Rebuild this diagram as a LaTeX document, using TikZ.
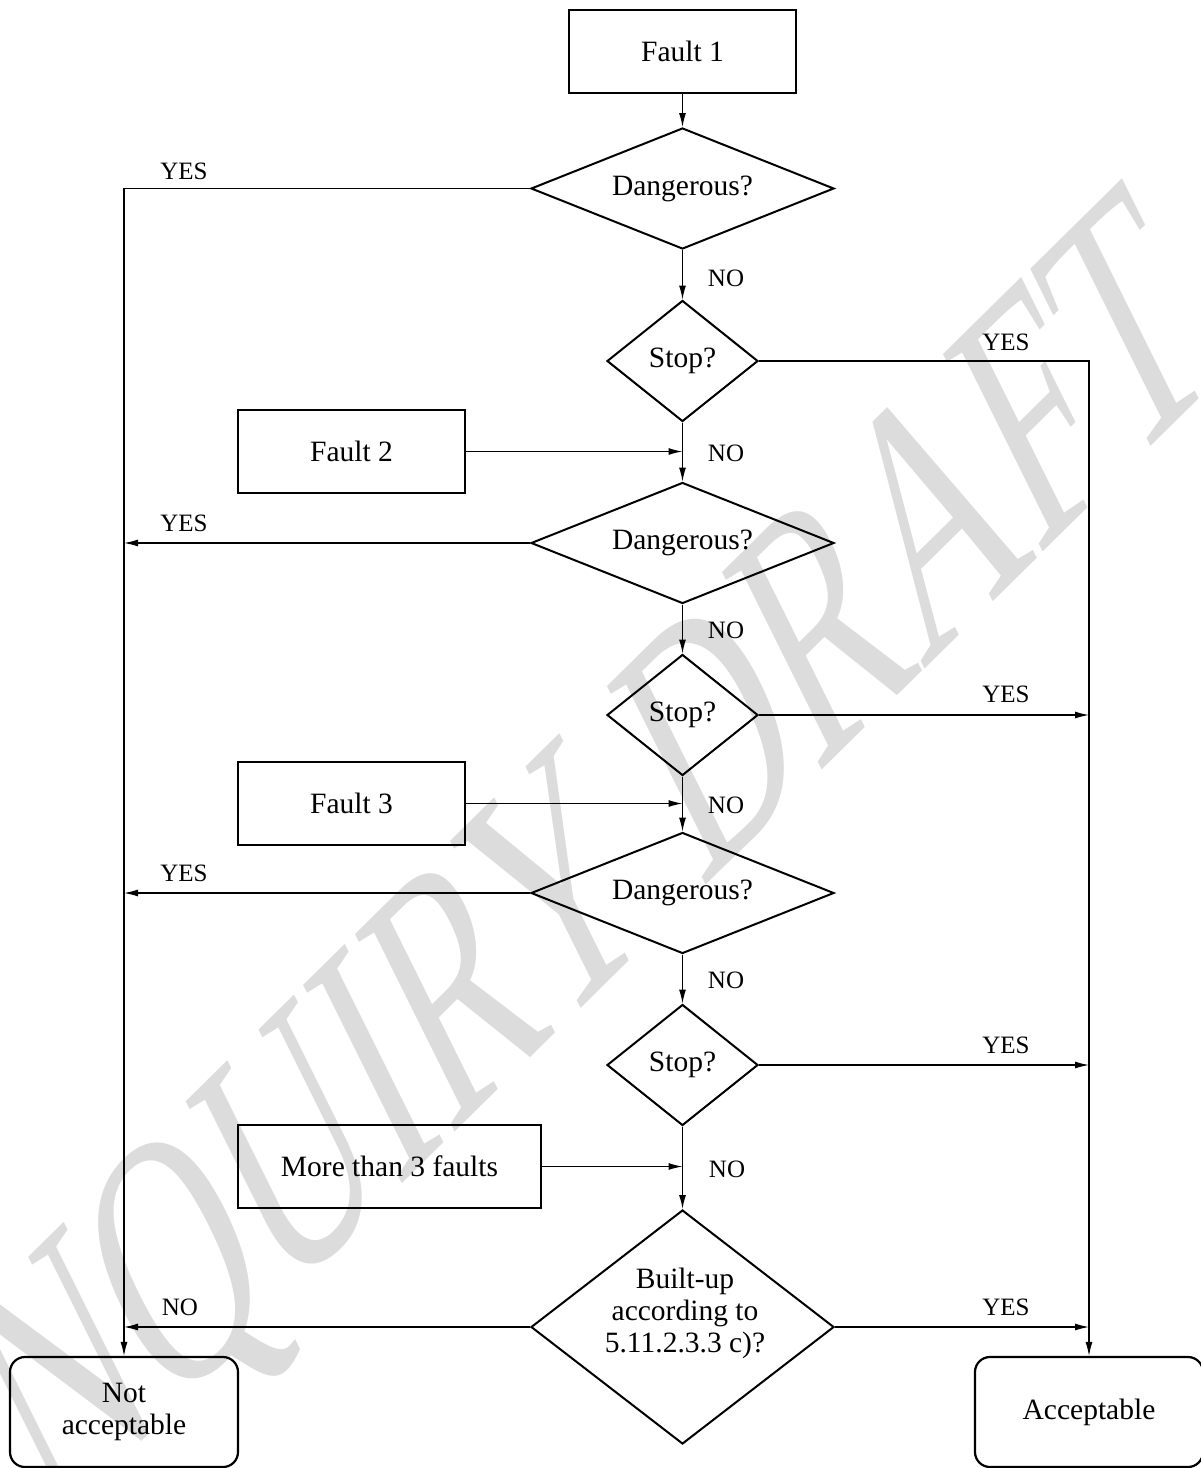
\documentclass[tikz,border=0pt]{standalone}
\usepackage{fontspec}
\setmainfont{Liberation Serif}
\usetikzlibrary{shapes.geometric,arrows.meta}
\definecolor{wmgray}{HTML}{DCDCDC}
\begin{document}
\begin{tikzpicture}[x=1pt,y=-1pt,
  txt/.style={font=\fontsize{29.5}{32}\selectfont},
  lbl/.style={font=\fontsize{25}{30}\selectfont,inner sep=0pt},
  box/.style={txt,draw,line width=2.4pt,rectangle,inner sep=0pt,minimum height=83pt},
  endbox/.style={txt,draw,line width=2.2pt,rectangle,rounded corners=15pt,inner sep=0pt,minimum width=228pt,minimum height=110pt,align=center},
  dia/.style={txt,draw,line width=2pt,diamond,inner sep=0pt},
  bigdia/.style={dia,shape aspect=2.5,minimum width=303pt,minimum height=121pt},
  smalldia/.style={dia,shape aspect=1.25,minimum width=151pt,minimum height=121pt},
  conn/.style={line width=1.2pt,-{Latex[length=14pt,width=7pt]}},
  wm/.style={text=wmgray,inner sep=0pt,font=\fontsize{370}{370}\selectfont}
]
\useasboundingbox (0,0) rectangle (1201,1468);
\begin{scope}
\clip (0,0) rectangle (1201,1468);
\fill[white] (0,0) rectangle (1201,1468);
\begin{scope}[xscale=0.71,transform shape]
\node[wm,rotate=35,anchor=base] (wmark) at (830,1000) {\scalebox{0.74}[1]{ENQUIRY DRAFT}};
\end{scope}

% nodes
\node[box,minimum width=227pt] (f1) at (682.5,51.5) {Fault 1};
\node[bigdia] (d1) at (682.5,188.5) {Dangerous?};
\node[smalldia] (s1) at (682.5,361) {Stop?};
\node[box,minimum width=227pt] (f2) at (351.5,451.5) {Fault 2};
\node[bigdia] (d2) at (682.5,543) {Dangerous?};
\node[smalldia] (s2) at (682.5,715) {Stop?};
\node[box,minimum width=227pt] (f3) at (351.5,803.5) {Fault 3};
\node[bigdia] (d3) at (682.5,893) {Dangerous?};
\node[smalldia] (s3) at (682.5,1065) {Stop?};
\node[box,minimum width=303pt] (f4) at (389.5,1166.5) {More than 3 faults};
\node[dia,minimum width=303pt,minimum height=234pt] (bu) at (682.5,1327) {};
\node[txt,align=center,inner sep=0pt] (butxt) at (685,1313) {Built-up\\according to\\5.11.2.3.3 c)?};
\node[endbox] (nacc) at (124,1412) {Not\\acceptable};
\node[endbox] (acc) at (1089,1412) {Acceptable};

% connectors
\draw[conn] (f1) -- (d1);
\draw[conn] (d1) -- (s1);
\draw[conn] (s1) -- (d2);
\draw[conn] (d2) -- (s2);
\draw[conn] (s2) -- (d3);
\draw[conn] (d3) -- (s3);
\draw[conn] (s3) -- (bu);
\draw[conn] (d1.west) -| (nacc.north);
\draw[conn] (s1.east) -| (acc.north);
\draw[conn] (f2.east) -- (f2.east -| d2.north);
\draw[conn] (f3.east) -- (f3.east -| d3.north);
\draw[conn] (f4.east) -- (f4.east -| bu.north);
\draw[conn] (d2.west) -- (d2.west -| nacc.north);
\draw[conn] (d3.west) -- (d3.west -| nacc.north);
\draw[conn] (bu.west) -- (bu.west -| nacc.north);
\draw[conn] (s2.east) -- (s2.east -| acc.north);
\draw[conn] (s3.east) -- (s3.east -| acc.north);
\draw[conn] (bu.east) -- (bu.east -| acc.north);

% labels
\node[lbl] (l1) at (184,171) {YES};
\node[lbl] (l2) at (726,278) {NO};
\node[lbl] (l3) at (1006,342) {YES};
\node[lbl] (l4) at (726,453) {NO};
\node[lbl] (l5) at (184,523) {YES};
\node[lbl] (l6) at (726,630) {NO};
\node[lbl] (l7) at (1006,694) {YES};
\node[lbl] (l8) at (726,805) {NO};
\node[lbl] (l9) at (184,873) {YES};
\node[lbl] (l10) at (726,980) {NO};
\node[lbl] (l11) at (1006,1045) {YES};
\node[lbl] (l12) at (727,1169) {NO};
\node[lbl] (l13) at (180,1307) {NO};
\node[lbl] (l14) at (1006,1307) {YES};
\end{scope}
\end{tikzpicture}
\end{document}
